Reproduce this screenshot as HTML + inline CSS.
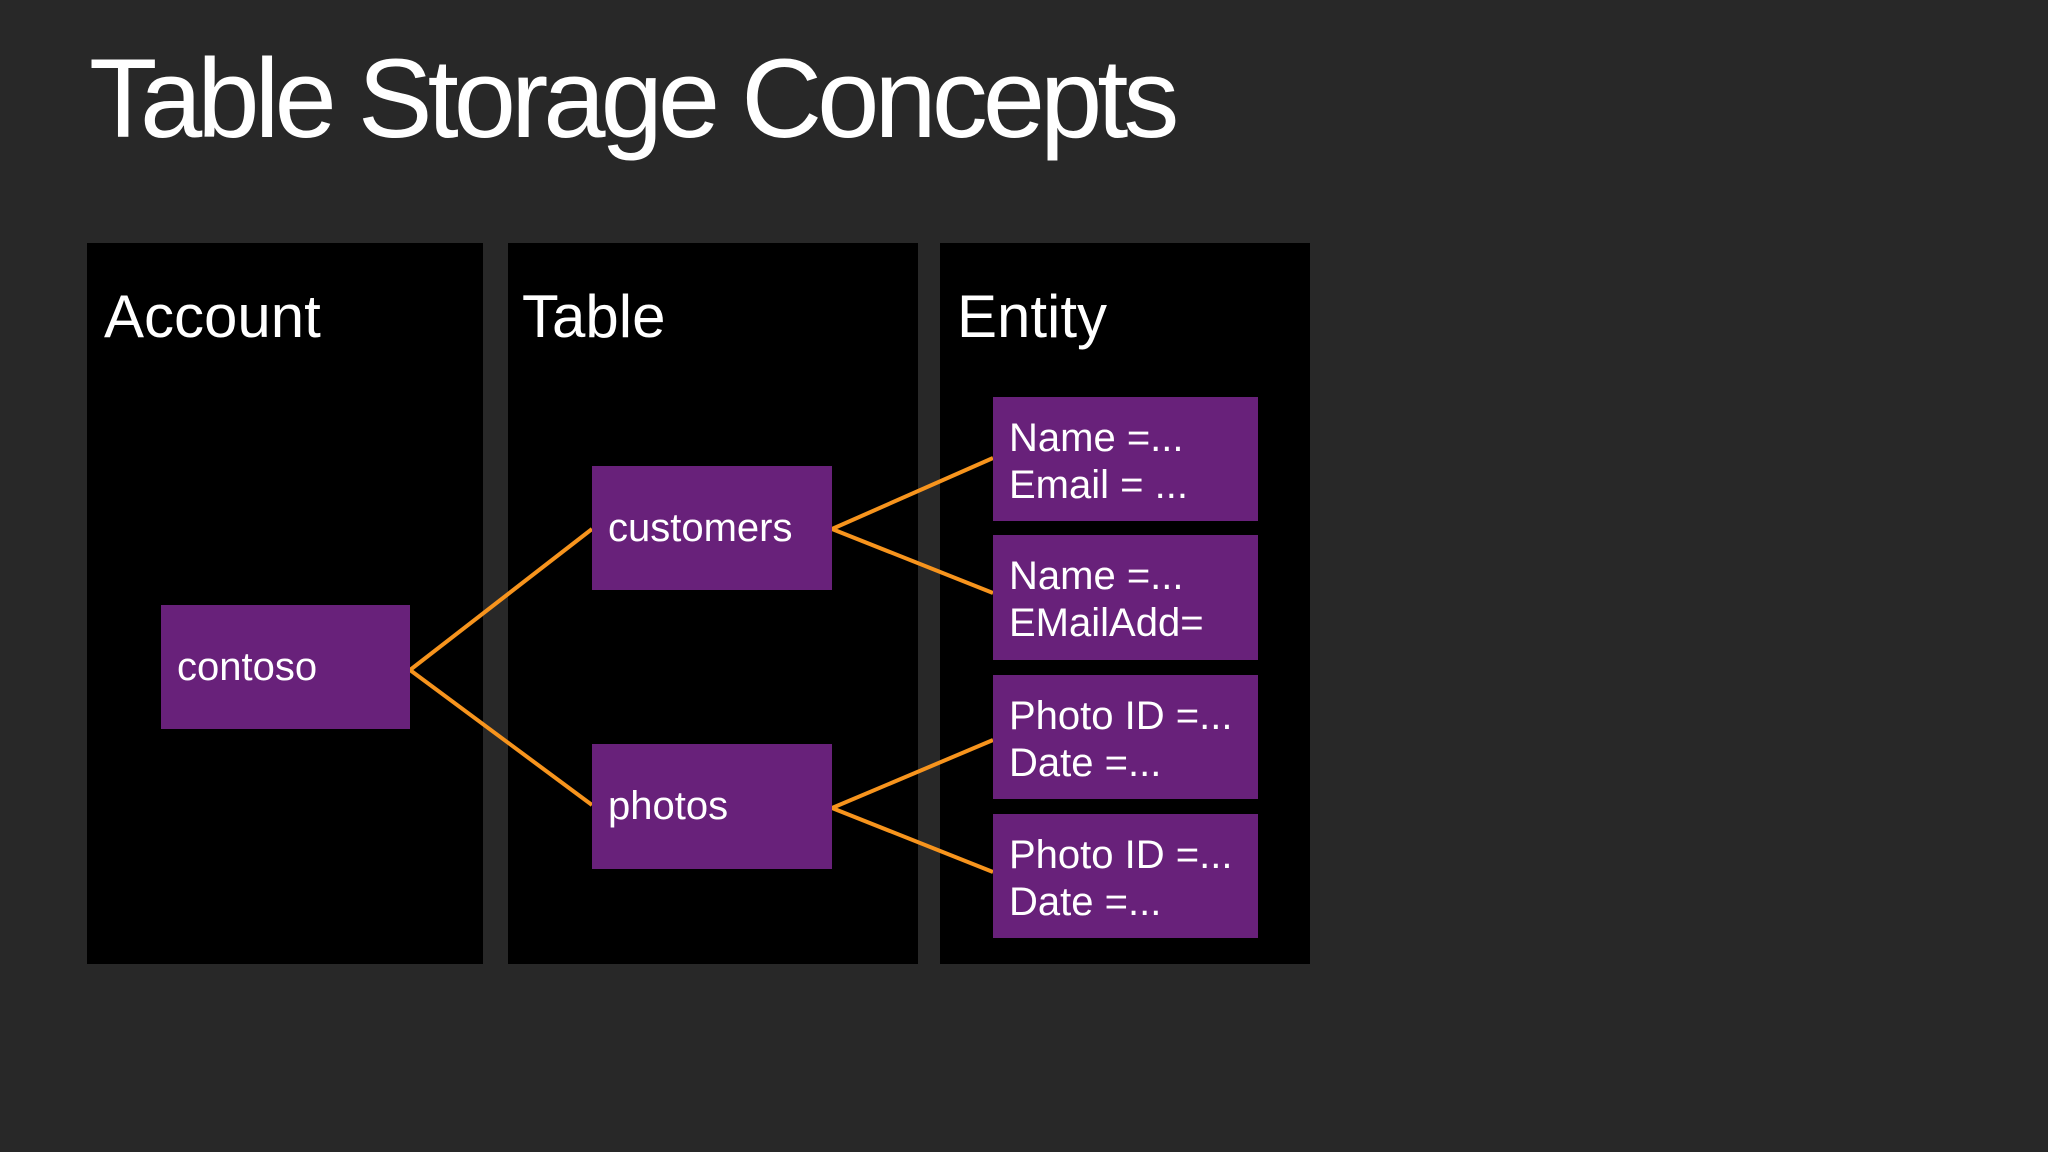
<!DOCTYPE html>
<html><head><meta charset="utf-8"><style>
html,body{margin:0;padding:0}
body{width:2048px;height:1152px;background:#282828;position:relative;overflow:hidden;font-family:"Liberation Sans","DejaVu Sans",sans-serif;color:#fff}
.t{position:absolute;left:89px;top:34px;font-size:112px;font-weight:300;letter-spacing:-5px;white-space:nowrap}
.p{position:absolute;background:#000}
.pl{position:absolute;font-size:60px;white-space:nowrap}
.b{position:absolute;background:#68217a;font-size:40px;box-sizing:border-box;padding-left:16px;white-space:nowrap}
.e{line-height:47px;padding-top:18px}
svg{position:absolute;left:0;top:0}
</style></head><body>
<div class="t">Table Storage Concepts</div>
<div class="p" style="left:87px;top:243px;width:396px;height:721px"></div>
<div class="p" style="left:508px;top:243px;width:410px;height:721px"></div>
<div class="p" style="left:940px;top:243px;width:370px;height:721px"></div>
<div class="pl" style="left:104px;top:282px">Account</div>
<div class="pl" style="left:522px;top:282px">Table</div>
<div class="pl" style="left:957px;top:282px">Entity</div>
<svg width="2048" height="1152"><g stroke="#f7941d" stroke-width="4" fill="none">
<line x1="410" y1="670" x2="592" y2="529"/><line x1="410" y1="670" x2="592" y2="805"/>
<line x1="832" y1="529" x2="993" y2="458"/><line x1="832" y1="529" x2="993" y2="593"/>
<line x1="832" y1="808" x2="993" y2="740"/><line x1="832" y1="808" x2="993" y2="872"/>
</g></svg>
<div class="b" style="left:161px;top:605px;width:249px;height:124px;line-height:124px">contoso</div>
<div class="b" style="left:592px;top:466px;width:240px;height:124px;line-height:124px">customers</div>
<div class="b" style="left:592px;top:744px;width:240px;height:125px;line-height:125px">photos</div>
<div class="b e" style="left:993px;top:397px;width:265px;height:124px">Name =...<br>Email = ...</div>
<div class="b e" style="left:993px;top:535px;width:265px;height:125px">Name =...<br>EMailAdd=</div>
<div class="b e" style="left:993px;top:675px;width:265px;height:124px">Photo ID =...<br>Date =...</div>
<div class="b e" style="left:993px;top:814px;width:265px;height:124px">Photo ID =...<br>Date =...</div>
</body></html>
